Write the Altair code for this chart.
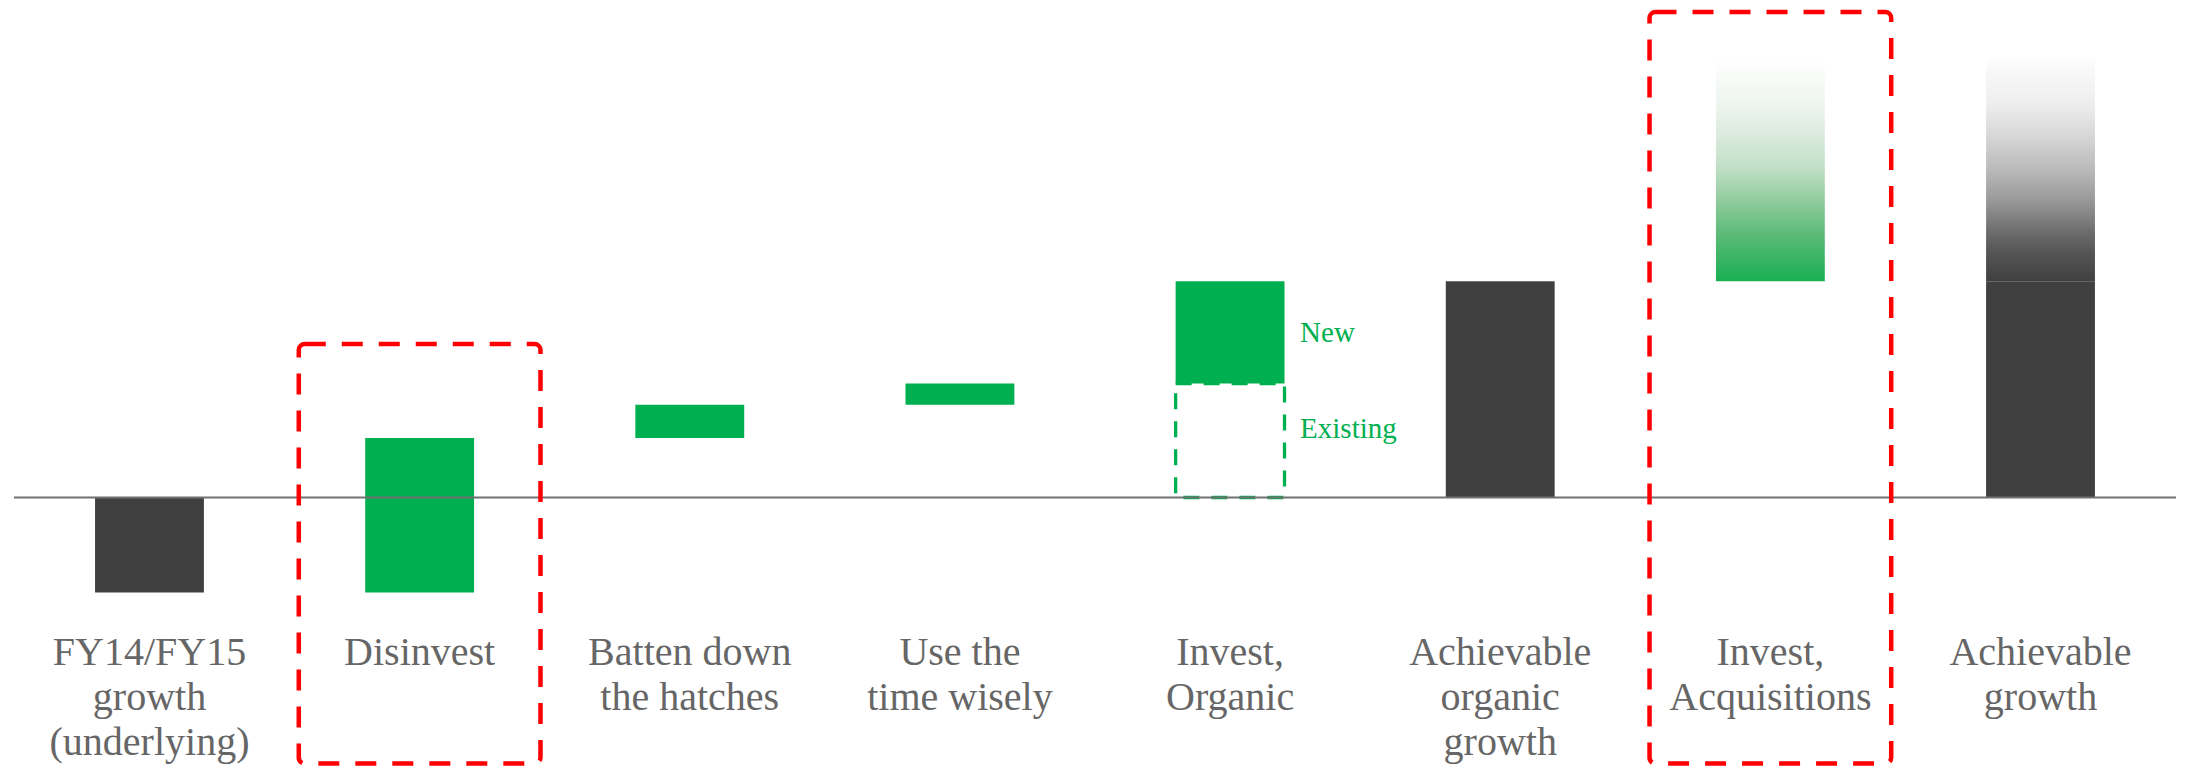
import altair as alt
import pandas as pd

# ---- data (values in % growth points) ----
keys = ["FY14", "Disinvest", "Batten", "UseTime", "InvestOrg", "AchOrg", "InvestAcq", "AchGrowth"]
labels = [
    "FY14/FY15\ngrowth\n(underlying)",
    "Disinvest",
    "Batten down\nthe hatches",
    "Use the\ntime wisely",
    "Invest,\nOrganic",
    "Achievable\norganic\ngrowth",
    "Invest,\nAcquisitions",
    "Achievable\ngrowth",
]
bar_start = [0.0, -2.0, 1.25, 1.95, 2.4, 0.0, 4.55, 0.0]
bar_end = [-2.0, 1.25, 1.95, 2.4, 4.55, 4.55, 9.3, 4.55]
bar_kind = ["total", "step", "step", "step", "step", "total", "fade", "total"]

# existing organic (dashed outline) and the uncertain top of achievable growth
existing_key = ["InvestOrg"]
existing_start = [0.0]
existing_end = [2.4]
growth_fade_key = ["AchGrowth"]
growth_fade_start = [4.55]
growth_fade_end = [9.3]

# highlighted (red dashed) categories and box extents
box_keys = ["Disinvest", "InvestAcq"]
box_top = [3.23, 10.22]
box_bottom = [-5.6, -5.6]

# side notes
note_text = ["New", "Existing"]
note_y = [3.27, 1.25]

label_y = -3.53
Y_DOMAIN = [-5.653, 10.305]

GREEN = "#00B050"
DARK = "#404040"
RED = "#FF0000"
TEXT = "#666666"
FONT = "Liberation Serif"

bars = pd.DataFrame({"key": keys, "start": bar_start, "end": bar_end, "kind": bar_kind})
existing = pd.DataFrame({"key": existing_key, "start": existing_start, "end": existing_end})
gfade = pd.DataFrame({"key": growth_fade_key, "start": growth_fade_start, "end": growth_fade_end})
boxes = pd.DataFrame({"key": box_keys, "top": box_top, "bottom": box_bottom})
lab = pd.DataFrame({"key": keys, "label": labels, "y": [label_y] * len(keys)})
notes = pd.DataFrame({"key": ["InvestOrg"] * 2, "text": note_text, "y": note_y})
base_df = pd.DataFrame({"y": [0.0]})

xs = alt.Scale(domain=keys, paddingInner=0.597, paddingOuter=0.3)
ys = alt.Scale(domain=Y_DOMAIN, nice=False, zero=False)

X = alt.X("key:N", scale=xs, axis=None, sort=keys)


def Y(f):
    return alt.Y(f"{f}:Q", scale=ys, axis=None)


green_fade = alt.Gradient(
    gradient="linear", x1=0, x2=0, y1=1, y2=0,
    stops=[
        alt.GradientStop(offset=0.0, color="#19AF52"),
        alt.GradientStop(offset=0.21, color="#5cbb78"),
        alt.GradientStop(offset=0.36, color="#92cc9e"),
        alt.GradientStop(offset=0.5, color="#bfdfc5"),
        alt.GradientStop(offset=0.65, color="#dcebdf"),
        alt.GradientStop(offset=0.79, color="#eef5ef"),
        alt.GradientStop(offset=0.93, color="#fafcfa"),
        alt.GradientStop(offset=1.0, color="#ffffff"),
    ],
)
grey_fade = alt.Gradient(
    gradient="linear", x1=0, x2=0, y1=1, y2=0,
    stops=[
        alt.GradientStop(offset=0.0, color="#404040"),
        alt.GradientStop(offset=0.13, color="#555555"),
        alt.GradientStop(offset=0.21, color="#6a6a6a"),
        alt.GradientStop(offset=0.36, color="#999999"),
        alt.GradientStop(offset=0.5, color="#bbbbbb"),
        alt.GradientStop(offset=0.65, color="#d8d8d8"),
        alt.GradientStop(offset=0.79, color="#eeeeee"),
        alt.GradientStop(offset=0.93, color="#f8f8f8"),
        alt.GradientStop(offset=1.0, color="#ffffff"),
    ],
)

solid = alt.Chart(bars).transform_filter(alt.datum.kind != "fade").mark_bar().encode(
    x=X, y=Y("start"), y2="end",
    color=alt.Color("kind:N", scale=alt.Scale(domain=["total", "step"], range=[DARK, GREEN]), legend=None),
)
acq_fade = alt.Chart(bars).transform_filter(alt.datum.kind == "fade").mark_bar(color=green_fade).encode(
    x=X, y=Y("start"), y2="end"
)
growth_fade = alt.Chart(gfade).mark_bar(color=grey_fade).encode(x=X, y=Y("start"), y2="end")

existing_box = alt.Chart(existing).mark_bar(
    fill="transparent", stroke=GREEN, strokeWidth=3.3, strokeDash=[16, 12]
).encode(x=X, y=Y("start"), y2="end")

baseline = alt.Chart(base_df).mark_rule(color="#707070", strokeWidth=2).encode(y=Y("y"))

red_boxes = alt.Chart(boxes).mark_bar(
    fill="transparent", stroke=RED, strokeWidth=4.5, strokeDash=[21, 16],
    cornerRadius=6, width=alt.RelativeBandSize(2.22),
).encode(x=X, y=Y("top"), y2="bottom")

cat_labels = alt.Chart(lab).mark_text(
    font=FONT, fontSize=40, color=TEXT, align="center", baseline="alphabetic",
    lineBreak="\n", lineHeight=45,
).encode(x=X, y=Y("y"), text="label:N")

note_labels = alt.Chart(notes).mark_text(
    font=FONT, fontSize=29, color=GREEN, align="left", baseline="alphabetic", dx=70,
).encode(x=X, y=Y("y"), text="text:N")

chart = alt.layer(
    solid, acq_fade, growth_fade, existing_box, baseline, red_boxes, cat_labels, note_labels
).properties(
    width=2162, height=758,
    autosize=alt.AutoSizeParams(type="none"),
    padding={"left": 6, "top": 0, "right": 0, "bottom": 0},
).configure_view(stroke=None)

chart.save("out.html", embed_options={"renderer": "svg", "actions": False})
